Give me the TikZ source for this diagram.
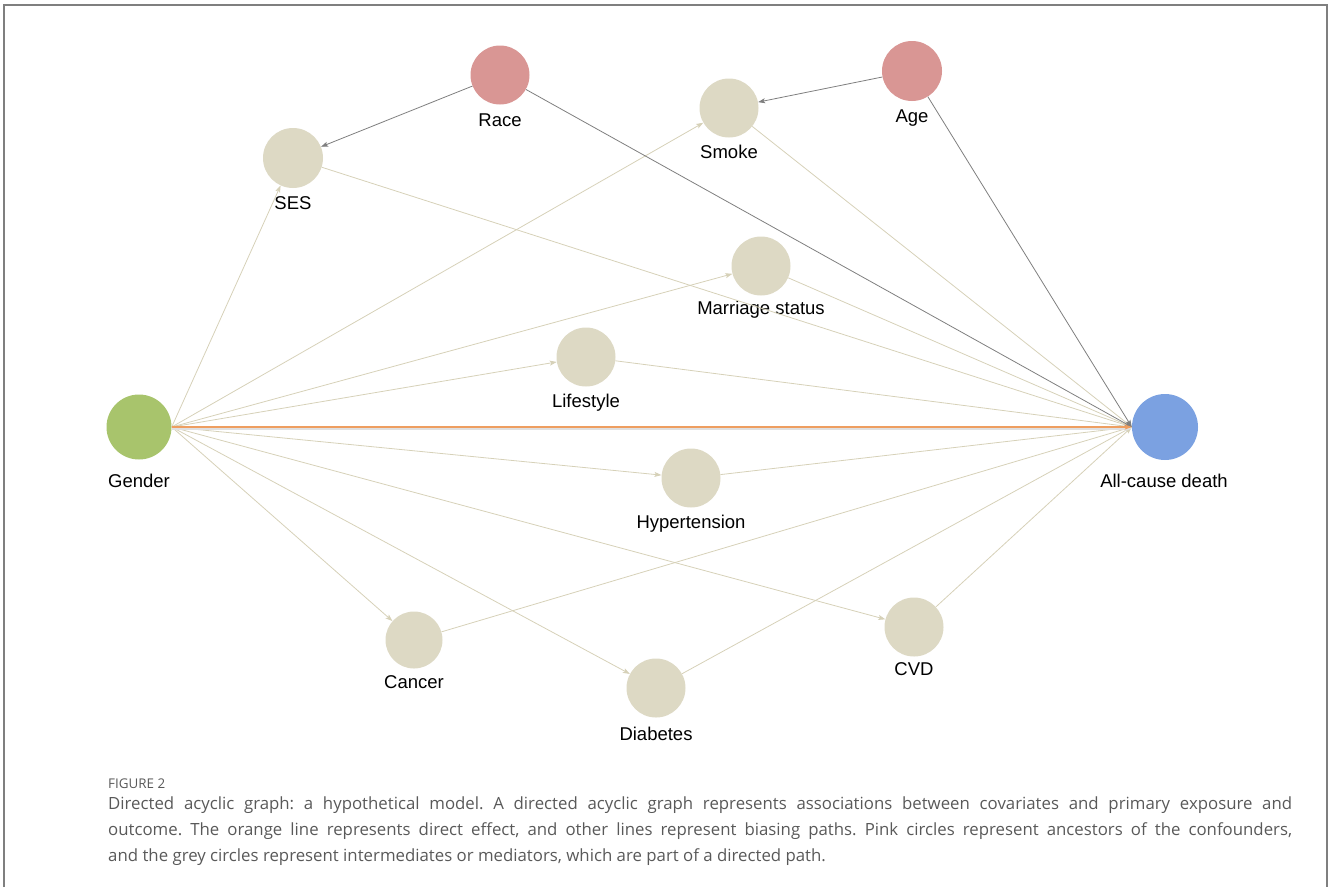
\documentclass[tikz,border=0pt]{standalone}
\usepackage{fontspec}
\setmainfont{Liberation Sans}
\newfontfamily\capfont{Open Sans}
\usepackage{tikz}
\usetikzlibrary{arrows.meta}

\definecolor{pinkc}{HTML}{D99694}
\definecolor{beigec}{HTML}{DDD9C4}
\definecolor{greenc}{HTML}{A8C46C}
\definecolor{bluec}{HTML}{7BA1E1}
\definecolor{pathc}{HTML}{D6D1B8}
\definecolor{greyc}{HTML}{7F7F7F}
\definecolor{orangec}{HTML}{EE9E60}
\definecolor{capc}{HTML}{595959}

\begin{document}
\begin{tikzpicture}[x=1pt,y=-1pt,>={Stealth[length=7pt,width=5pt,inset=1.5pt]},
    lab/.style={font=\fontsize{18.5}{20}\selectfont,inner sep=0pt,text height=13.4pt,text depth=0pt,anchor=center},
    var/.style={circle,inner sep=0pt,minimum size=59pt,fill=beigec},
    ends/.style={circle,inner sep=0pt,minimum size=65pt},
    bias/.style={->,draw=pathc,line width=0.8pt},
    conf/.style={->,draw=greyc,line width=0.8pt},
    direct/.style={->,draw=orangec,line width=2.4pt,
        preaction={draw=black!12,line width=2.4pt,transform canvas={yshift=-1.6pt}}}]
    \useasboundingbox (0,0) rectangle (1330,887);
    \draw[greyc,line width=1.2pt] (4,887) -- (4,5) -- (1327,5) -- (1327,887);

    % exposure and outcome
    \node[ends,fill=greenc] (gender) at (139,427) {};
    \node[lab] (genderlab) at (139,480.5) {Gender};
    \node[ends,fill=bluec,minimum size=66pt] (death) at (1165,427) {};
    \node[lab] (deathlab) at (1164,480.5) {All-cause death};

    % ancestors of the confounders
    \node[var,fill=pinkc] (race) at (500,75) {};
    \node[lab] (racelab) at (500,119.5) {Race};
    \node[var,fill=pinkc,minimum size=60pt] (age) at (912,71) {};
    \node[lab] (agelab) at (912,116) {Age};

    % intermediates
    \node[var,minimum size=60pt] (ses) at (293,158) {};
    \node[lab] (seslab) at (293,202.5) {SES};
    \node[var] (smoke) at (729,108) {};
    \node[lab] (smokelab) at (729,152) {Smoke};
    \node[var] (marriage) at (761,266) {};
    \node[lab] (marriagelab) at (761,308) {Marriage status};
    \node[var] (lifestyle) at (586,357) {};
    \node[lab] (lifestylelab) at (586,401) {Lifestyle};
    \node[var] (hyper) at (691,478) {};
    \node[lab] (hyperlab) at (691,522) {Hypertension};
    \node[var,minimum size=57pt] (cancer) at (414,640) {};
    \node[lab] (cancerlab) at (414,682) {Cancer};
    \node[var] (diabetes) at (656,688) {};
    \node[lab] (diabeteslab) at (656,734) {Diabetes};
    \node[var] (cvd) at (914,627) {};
    \node[lab] (cvdlab) at (914,669) {CVD};

    % biasing paths
    \foreach \m in {ses,smoke,marriage,lifestyle,hyper,cancer,diabetes,cvd}{
        \draw[bias] (gender.east) -- (\m);
        \draw[bias] (\m) -- (death.west);
    }

    \draw[conf] (race) -- (ses);
    \draw[conf] (race) -- (death.west);
    \draw[conf] (age) -- (smoke);
    \draw[conf] (age) -- (death.west);

    % direct effect
    \draw[direct] (gender.east) -- (death.west);

    % caption
    \node[anchor=base west,inner sep=0pt,text=capc,font=\capfont\fontsize{13.4}{15}\selectfont] (fig) at (108,788) {FIGURE 2};
    \node[anchor=north west,inner sep=0pt,text width=1184pt,align=justify,text=capc,
          font=\capfont\fontsize{16.8}{26}\selectfont] (caption) at (108,797)
        {\frenchspacing Directed acyclic graph: a hypothetical model. A directed acyclic graph represents associations between covariates and primary exposure and\linebreak
         outcome. The orange line represents direct effect, and other lines represent biasing paths. Pink circles represent ancestors of the confounders,\linebreak
         and the grey circles represent intermediates or mediators, which are part of a directed path.};
\end{tikzpicture}
\end{document}
